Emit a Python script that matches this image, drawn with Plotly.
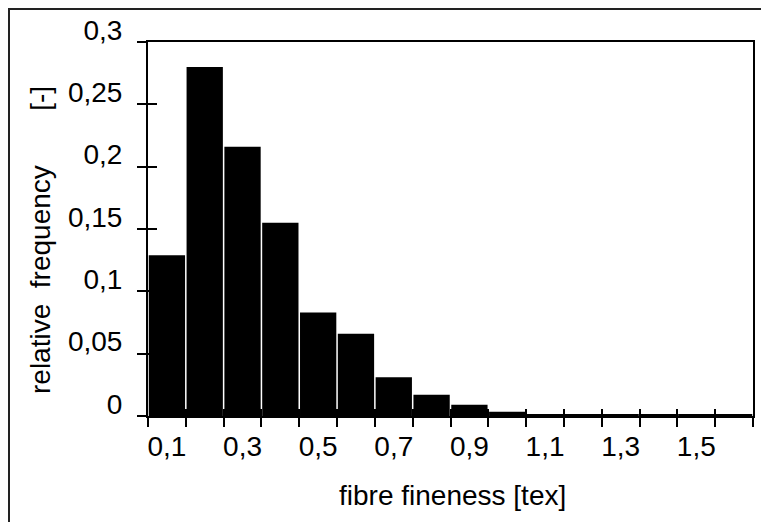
import plotly.graph_objects as go

# Data
categories = ["0,1", "0,2", "0,3", "0,4", "0,5", "0,6", "0,7", "0,8",
              "0,9", "1,0", "1,1", "1,2", "1,3", "1,4", "1,5", "1,6"]
frequency = [0.129, 0.280, 0.216, 0.155, 0.083, 0.066, 0.031, 0.017,
             0.009, 0.0035, 0.0015, 0.0013, 0.0012, 0.0012, 0.0012, 0.0012]
tick_labels = ["0,1", "", "0,3", "", "0,5", "", "0,7", "",
               "0,9", "", "1,1", "", "1,3", "", "1,5", ""]
y_ticks = [0, 0.05, 0.1, 0.15, 0.2, 0.25, 0.3]

# page has an 8px body margin; figure is laid out so page coords match the target
OFF = 8
W, H = 769 - OFF, 522 - OFF
L, T = 148 - OFF, 42 - OFF
PW, PH = 605, 374
R, B = W - L - PW, H - T - PH

def px_x(x):  # page x -> paper x
    return (x - OFF - L) / PW

def px_y(y):  # page y -> paper y
    return (T + PH - (y - OFF)) / PH

FONT = "Liberation Sans, Arial, sans-serif"

fig = go.Figure()
fig.add_trace(go.Bar(x=categories, y=frequency, marker=dict(color="black", line=dict(width=0)),
                     showlegend=False, hoverinfo="x+y"))

fig.update_layout(
    width=W, height=H, autosize=False,
    margin=dict(l=L, r=R, t=T, b=B, pad=0, autoexpand=False),
    paper_bgcolor="white", plot_bgcolor="white",
    bargap=0.04,
    separators=", ",
    font=dict(family=FONT, size=26, color="black"),
    xaxis=dict(
        type="category", range=[-0.5, 15.5], automargin=False,
        tickmode="array", tickvals=categories, ticktext=tick_labels, tickangle=0,
        tickson="boundaries", ticks="outside", ticklen=9, tickwidth=2, tickcolor="black",
        showline=True, linewidth=2, linecolor="black", mirror=True,
        showgrid=False, zeroline=False,
        tickfont=dict(family=FONT, size=28, color="black"),
        ticklabelstandoff=4,
    ),
    xaxis2=dict(
        overlaying="x", range=[-0.5, 15.5], tick0=-0.5, dtick=1, automargin=False,
        ticks="inside", ticklen=7, tickwidth=2, tickcolor="black",
        showticklabels=False, showline=False, showgrid=False, zeroline=False,
    ),
    yaxis=dict(
        range=[0, 0.3], tickmode="array", tickvals=y_ticks, automargin=False,
        ticks="outside", ticklen=9, tickwidth=2, tickcolor="black",
        showline=True, linewidth=2, linecolor="black", mirror=True,
        showgrid=False, zeroline=False,
        tickfont=dict(family=FONT, size=28, color="black"),
        ticklabelstandoff=9, ticklabelshift=-12,
    ),
    yaxis2=dict(
        overlaying="y", range=[0, 0.3], tickmode="array", tickvals=y_ticks, automargin=False,
        ticks="inside", ticklen=9, tickwidth=2, tickcolor="black",
        showticklabels=False, showline=False, showgrid=False, zeroline=False,
    ),
)

# invisible helper trace so overlay axes render
fig.add_trace(go.Scatter(x=[0], y=[0], xaxis="x2", yaxis="y2", mode="markers",
                         marker=dict(opacity=0), showlegend=False, hoverinfo="skip"))

# axis titles
fig.add_annotation(text="fibre fineness [tex]", xref="paper", yref="paper",
                   x=px_x(452), y=px_y(495), xanchor="center", yanchor="middle",
                   showarrow=False, font=dict(family=FONT, size=28, color="black"))
fig.add_annotation(text="relative  frequency" + "\u00a0" * 7 + "[-]", xref="paper", yref="paper",
                   x=px_x(40), y=px_y(240), xanchor="center", yanchor="middle", textangle=-90,
                   showarrow=False, font=dict(family=FONT, size=28, color="black"))

# outer chart frame (left and top edges visible, rest runs off the page)
fig.add_shape(type="rect", xref="paper", yref="paper",
              x0=px_x(9), x1=px_x(800), y0=px_y(560), y1=px_y(9),
              line=dict(color="#222222", width=2), fillcolor="rgba(0,0,0,0)", layer="above")

fig.write_html("out.html")
